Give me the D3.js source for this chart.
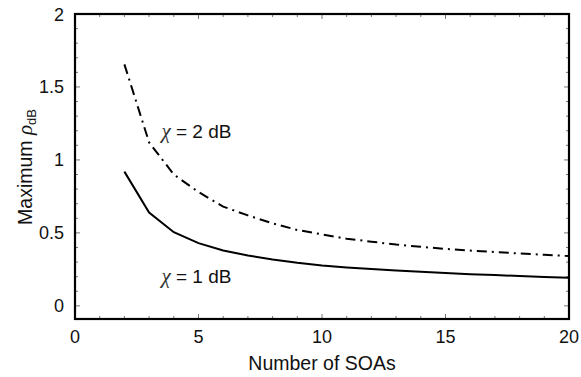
<!DOCTYPE html>
<html>
<head>
<meta charset="utf-8">
<script src="https://cdn.jsdelivr.net/npm/d3@7"></script>
<style>
  body { margin: 0; background: #fff; }
  text { font-family: Arial, "Liberation Sans", sans-serif; fill: #111; }
</style>
</head>
<body>
<script>
// number of SOAs
const soas = [2, 3, 4, 5, 6, 7, 8, 9, 10, 11, 12, 13, 14, 15, 16, 17, 18, 19, 20]
// max rho_dB for chi = 1 dB (solid) and chi = 2 dB (dash-dot)
const chi1 = [0.92, 0.64, 0.505, 0.43, 0.38, 0.345, 0.318, 0.295, 0.277, 0.263, 0.252, 0.242, 0.233, 0.225, 0.217, 0.211, 0.204, 0.198, 0.192]
const chi2 = [1.655, 1.12, 0.9, 0.78, 0.68, 0.62, 0.565, 0.52, 0.49, 0.46, 0.44, 0.42, 0.405, 0.39, 0.379, 0.369, 0.359, 0.35, 0.341]
const xTicks = [0, 5, 10, 15, 20]
const yTicks = [0, 0.5, 1, 1.5, 2]

const width = 581, height = 377
const margin = {top: 14, right: 12, bottom: 58, left: 75}

const svg = d3.select("body").append("svg")
    .attr("width", width)
    .attr("height", height)

const x = d3.scaleLinear().domain([0, 20]).range([margin.left, width - margin.right])
const y = d3.scaleLinear().domain([-0.09, 2]).range([height - margin.bottom, margin.top])

const x0 = margin.left, x1 = width - margin.right
const y0 = height - margin.bottom, y1 = margin.top

// minor + major ticks, inward on all four sides
const minorX = d3.range(1, 20).filter(v => v % 5 !== 0)
const minorY = d3.range(1, 20).map(v => v / 10).filter(v => Math.round(v * 10) % 5 !== 0)

const tickG = svg.append("g").attr("stroke", "#777").attr("stroke-width", 1)
minorX.forEach(v => {
    tickG.append("line").attr("x1", x(v)).attr("x2", x(v)).attr("y1", y0).attr("y2", y0 - 3)
    tickG.append("line").attr("x1", x(v)).attr("x2", x(v)).attr("y1", y1).attr("y2", y1 + 3)
})
minorY.forEach(v => {
    tickG.append("line").attr("y1", y(v)).attr("y2", y(v)).attr("x1", x0).attr("x2", x0 + 3)
    tickG.append("line").attr("y1", y(v)).attr("y2", y(v)).attr("x1", x1).attr("x2", x1 - 3)
})
xTicks.forEach(v => {
    tickG.append("line").attr("x1", x(v)).attr("x2", x(v)).attr("y1", y0).attr("y2", y0 - 5)
    tickG.append("line").attr("x1", x(v)).attr("x2", x(v)).attr("y1", y1).attr("y2", y1 + 5)
})
yTicks.forEach(v => {
    tickG.append("line").attr("y1", y(v)).attr("y2", y(v)).attr("x1", x0).attr("x2", x0 + 5)
    tickG.append("line").attr("y1", y(v)).attr("y2", y(v)).attr("x1", x1).attr("x2", x1 - 5)
})

// frame
svg.append("rect")
    .attr("x", x0).attr("y", y1)
    .attr("width", x1 - x0).attr("height", y0 - y1)
    .attr("fill", "none")
    .attr("stroke", "#000")
    .attr("stroke-width", 2.2)

// tick labels
svg.append("g").selectAll("text")
    .data(xTicks)
    .enter().append("text")
    .attr("x", d => x(d))
    .attr("y", y0 + 24)
    .attr("text-anchor", "middle")
    .attr("font-size", 18)
    .text(d => d)

svg.append("g").selectAll("text")
    .data(yTicks)
    .enter().append("text")
    .attr("x", x0 - 11)
    .attr("y", d => y(d) + 6.5)
    .attr("text-anchor", "end")
    .attr("font-size", 18)
    .text(d => d)

// axis titles
svg.append("text")
    .attr("x", x(10))
    .attr("y", 370)
    .attr("text-anchor", "middle")
    .attr("font-size", 19.5)
    .text("Number of SOAs")

const yt = svg.append("text")
    .attr("transform", "translate(32,167) rotate(-90)")
    .attr("text-anchor", "middle")
    .attr("font-size", 19.5)
yt.append("tspan").text("Maximum ")
yt.append("tspan").attr("font-family", "'Liberation Serif', 'Times New Roman', serif")
    .attr("font-style", "italic").attr("font-size", 21).text("ρ")
yt.append("tspan").attr("font-size", 13).attr("dy", 4).text("dB")

// curves
const line = d3.line()
    .x((d, i) => x(soas[i]))
    .y(d => y(d))

svg.append("path")
    .datum(chi1)
    .attr("d", line)
    .attr("fill", "none")
    .attr("stroke", "#000")
    .attr("stroke-width", 2)

svg.append("path")
    .datum(chi2)
    .attr("d", line)
    .attr("fill", "none")
    .attr("stroke", "#000")
    .attr("stroke-width", 2)
    .attr("stroke-dasharray", "10,5,2,5")

// annotations
function label(xv, yv, val) {
    const t = svg.append("text")
        .attr("x", x(xv))
        .attr("y", y(yv))
        .attr("font-size", 19)
    t.append("tspan")
        .attr("font-family", "'Liberation Serif', 'Times New Roman', serif")
        .attr("font-style", "italic")
        .attr("font-size", 21)
        .attr("fill", "#333")
        .text("χ")
    t.append("tspan").text(" = " + val + " dB")
}
label(3.5, 1.15, 2)
label(3.5, 0.157, 1)
</script>
</body>
</html>
